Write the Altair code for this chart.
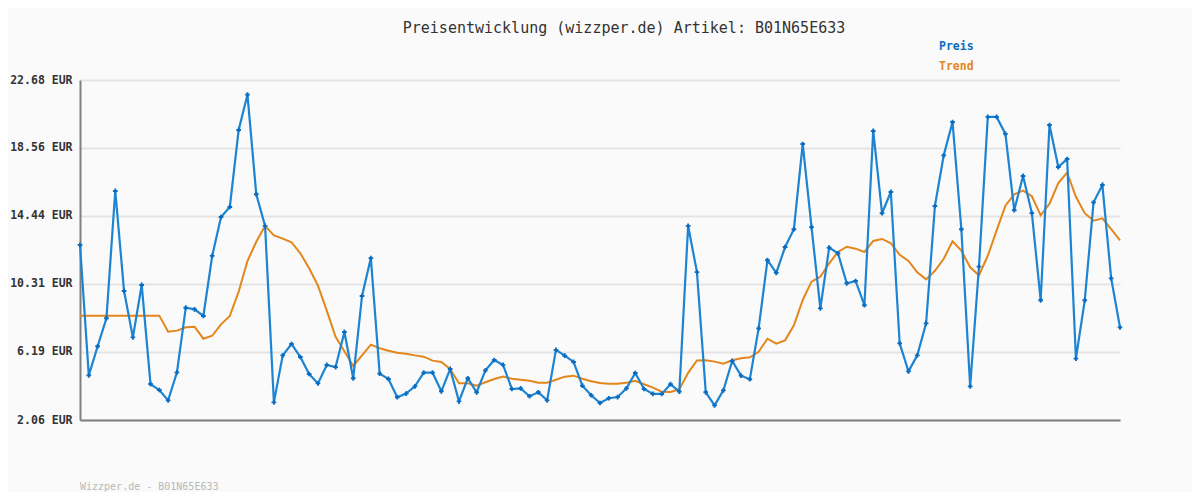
import altair as alt
import pandas as pd

# ---- data ----
preis = [12.67, 4.77, 6.53, 8.23, 15.95, 9.88, 7.07, 10.25, 4.24, 3.88,
         3.25, 4.95, 8.87, 8.77, 8.37, 12.01, 14.37, 14.98, 19.65, 21.79,
         15.75, 13.83, 3.13, 5.98, 6.67, 5.88, 4.85, 4.28, 5.40, 5.27,
         7.40, 4.59, 9.58, 11.88, 4.87, 4.55, 3.44, 3.66, 4.10, 4.93,
         4.93, 3.80, 5.15, 3.19, 4.59, 3.74, 5.07, 5.70, 5.40, 3.94,
         3.98, 3.50, 3.74, 3.25, 6.31, 5.96, 5.58, 4.14, 3.56, 3.09,
         3.38, 3.45, 3.98, 4.91, 3.94, 3.64, 3.64, 4.23, 3.78, 13.83,
         11.03, 3.74, 2.95, 3.86, 5.64, 4.75, 4.53, 7.62, 11.75, 10.98,
         12.55, 13.63, 18.80, 13.76, 8.83, 12.51, 12.17, 10.35, 10.49, 9.02,
         19.59, 14.60, 15.89, 6.71, 5.01, 5.98, 7.92, 15.04, 18.11, 20.13,
         13.63, 4.10, 11.36, 20.44, 20.44, 19.41, 14.78, 16.86, 14.61, 9.32,
         19.95, 17.40, 17.89, 5.78, 9.32, 15.26, 16.31, 10.65, 7.68]

trend = [8.39, 8.39, 8.39, 8.39, 8.39, 8.39, 8.39, 8.39, 8.39, 8.39,
         7.42, 7.48, 7.68, 7.72, 6.99, 7.17, 7.86, 8.37, 9.84, 11.70,
         12.87, 13.83, 13.26, 13.06, 12.84, 12.17, 11.26, 10.21, 8.69, 7.11,
         6.23, 5.34, 5.98, 6.63, 6.41, 6.26, 6.14, 6.08, 5.98, 5.90,
         5.66, 5.58, 5.15, 4.29, 4.29, 4.14, 4.35, 4.55, 4.69, 4.56,
         4.50, 4.44, 4.32, 4.32, 4.50, 4.69, 4.75, 4.56, 4.41, 4.30,
         4.26, 4.26, 4.32, 4.44, 4.23, 4.02, 3.78, 3.76, 3.92, 4.92,
         5.67, 5.68, 5.60, 5.47, 5.68, 5.80, 5.86, 6.20, 6.99, 6.69,
         6.89, 7.80, 9.34, 10.45, 10.75, 11.56, 12.25, 12.57, 12.45, 12.25,
         12.92, 13.04, 12.78, 12.08, 11.71, 11.02, 10.59, 11.11, 11.84, 12.90,
         12.33, 11.32, 10.84, 12.02, 13.56, 15.06, 15.75, 15.97, 15.63, 14.47,
         15.18, 16.43, 17.06, 15.60, 14.60, 14.15, 14.29, 13.64, 12.96]

tick_values = [2.06, 6.19, 10.31, 14.44, 18.56, 22.68]
series_names = ["Preis", "Trend"]
title_text = "Preisentwicklung (wizzper.de) Artikel: B01N65E633"
footer_text = "Wizzper.de - B01N65E633"

BLUE = "#1c84d2"
BLUE_DARK = "#0a6cc0"
ORANGE = "#e3861c"
MONO = "DejaVu Sans Mono"

df = pd.DataFrame({
    "i": list(range(len(preis))),
    "Preis": preis,
    "Trend": trend,
})

x_enc = alt.X("i:Q", scale=alt.Scale(domain=[0, len(preis) - 1], nice=False, zero=False),
              axis=alt.Axis(title=None, labels=False, ticks=False, grid=False,
                            domainColor="#808080", domainWidth=2))
y_scale = alt.Scale(domain=[tick_values[0], tick_values[-1]], nice=False, zero=False)
y_axis = alt.Axis(title=None, values=tick_values, ticks=False, grid=True,
                  gridColor="#e4e4e4", gridWidth=2,
                  domainColor="#808080", domainWidth=2,
                  labelExpr="format(datum.value, '.2f') + ' EUR'",
                  labelFont=MONO, labelFontSize=11.5, labelFontWeight="bold",
                  labelColor="#333333", labelPadding=8)

base = alt.Chart(df)

trend_line = base.mark_line(color=ORANGE, strokeWidth=2).encode(
    x=x_enc, y=alt.Y("Trend:Q", scale=y_scale, axis=y_axis))
preis_line = base.mark_line(color=BLUE, strokeWidth=2.2).encode(
    x=x_enc, y=alt.Y("Preis:Q", scale=y_scale, axis=y_axis))
preis_pts = base.mark_point(shape="cross", filled=True, size=22, color=BLUE_DARK, opacity=1).encode(
    x=x_enc, y=alt.Y("Preis:Q", scale=y_scale, axis=y_axis))

def label(text, x, y, color, size, weight, align="left"):
    return alt.Chart(pd.DataFrame({"t": [text]})).mark_text(
        font=MONO, fontSize=size, fontWeight=weight, color=color,
        align=align, baseline="middle").encode(
        x=alt.value(x), y=alt.value(y), text="t:N")

title = label(title_text, 544, -52, "#333333", 15, "normal", align="center")
leg1 = label(series_names[0], 859, -33, BLUE_DARK, 11.5, "bold")
leg2 = label(series_names[1], 859, -13, ORANGE, 11.5, "bold")
footer = label(footer_text, 0, 407, "#b8b8b8", 10, "normal")

chart = alt.layer(trend_line, preis_line, preis_pts, title, leg1, leg2, footer).properties(
    width=1040, height=340,
    padding={"left": 72, "top": 72, "right": 72, "bottom": 72},
    autosize=alt.AutoSizeParams(type="none"),
    background="#fafafa",
).configure_view(stroke=None)

chart.save("out.html", embed_options={"renderer": "svg", "actions": False})
